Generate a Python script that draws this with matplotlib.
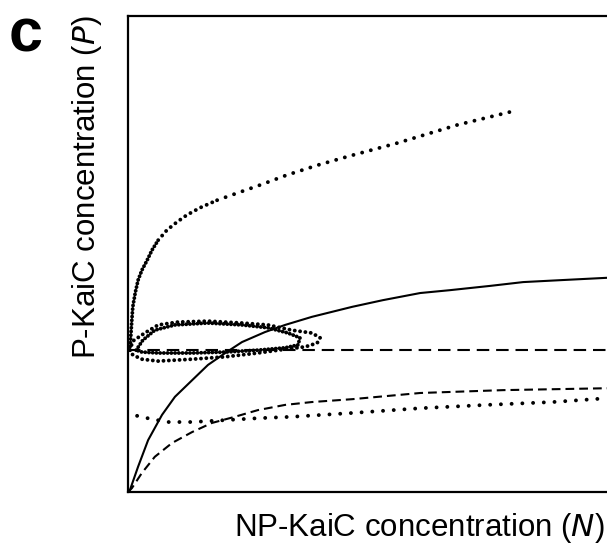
import numpy as np
import matplotlib
matplotlib.use("Agg")
import matplotlib.pyplot as plt

plt.rcParams["font.family"] = ["Liberation Sans", "DejaVu Sans"]

# trajectories in N (x) / P (y) units, axes run 0..100 on both
upper_n = [0.4, 0.6, 0.8, 1.0, 1.5, 2.1, 2.9, 4.0, 5.0, 6.3, 8.1, 10.2, 12.3, 15.0, 18.6, 22.8,
           27.6, 33.2, 39.7, 46.3, 56.2, 68.7, 80.4]
upper_p = [29.8, 33.0, 36.1, 38.9, 41.8, 44.5, 46.6, 48.7, 50.8, 52.9, 55.0, 56.7, 58.2, 59.7, 61.3, 62.8,
           64.5, 66.6, 68.7, 70.6, 73.3, 77.1, 80.0]

loop_out_n = [0.4, 1.0, 3.5, 6.3, 10.4, 16.7, 23.8, 29.2, 34.2, 38.4, 40.1, 39.5, 37.0, 32.8, 27.1,
              20.3, 13.4, 6.3, 2.9, 1.0, 0.4]
loop_out_p = [29.8, 31.7, 33.4, 35.1, 35.7, 35.9, 35.5, 35.1, 34.0, 33.4, 32.4, 31.3, 30.5, 30.0, 29.2,
              28.4, 27.9, 27.5, 27.9, 28.8, 29.8]
loop_in_n = [1.7, 3.1, 5.6, 9.8, 16.7, 23.8, 29.2, 33.4, 35.9, 35.5, 32.8, 27.1, 20.3, 13.4, 6.3, 2.9, 1.7]
loop_in_p = [29.8, 31.9, 34.0, 35.1, 35.5, 35.1, 34.5, 33.4, 32.4, 30.9, 30.3, 29.8, 29.4, 29.2, 29.2, 29.4, 29.8]

solid_n = [0.0, 0.4, 2.1, 4.2, 7.1, 9.8, 13.4, 16.7, 20.3, 23.8, 28.6, 32.8, 38.4, 46.8, 53.2, 61.0,
           67.2, 75.6, 82.5, 90.2, 100.0]
solid_p = [0.0, 0.4, 5.3, 10.9, 16.2, 20.0, 23.5, 26.7, 29.2, 31.5, 33.6, 35.1, 36.8, 38.9, 40.3, 41.8,
           42.4, 43.3, 44.1, 44.5, 45.0]

steady_p = 29.8

dashed_n = [0.0, 0.8, 2.9, 5.6, 9.2, 13.4, 17.5, 22.3, 27.1, 32.8, 38.4, 46.8, 61.0, 78.3, 100.0]
dashed_p = [0.0, 0.8, 4.0, 7.4, 10.3, 12.6, 14.5, 15.8, 17.2, 18.3, 18.9, 19.5, 20.8, 21.4, 21.8]

lower_n = [1.9, 5.0, 8.4, 13.4, 20.3, 27.1, 34.2, 46.8, 61.0, 74.9, 88.7, 100.0]
lower_p = [16.0, 15.3, 14.7, 14.7, 15.1, 15.5, 15.8, 16.6, 17.6, 18.3, 18.9, 19.7]

W, H = 607, 547
fig = plt.figure(figsize=(W / 100, H / 100), dpi=100)
ax = fig.add_axes([128 / W, 55 / H, 479 / W, 476 / H])

dot = dict(color="black", lw=2.8, dash_capstyle="round")
ax.plot(upper_n[:10], upper_p[:10], dashes=(0.01, 0.95), **dot)
ax.plot(upper_n[9:15], upper_p[9:15], dashes=(0.01, 1.55), **dot)
ax.plot(upper_n[14:], upper_p[14:], dashes=(0.01, 2.3), **dot)
ax.plot(loop_out_n, loop_out_p, dashes=(0.01, 1.37), **dot)
ax.plot(loop_in_n, loop_in_p, dashes=(0.01, 0.95), **dot)
ax.plot(lower_n, lower_p, dashes=(0.01, 2.75), **dot)

ax.plot(solid_n, solid_p, color="black", lw=1.5)
ax.axhline(steady_p, color="black", lw=1.5, dashes=(6, 3.3))
ax.plot(dashed_n, dashed_p, color="black", lw=1.5, dashes=(4.2, 2.4))

ax.set_xlim(0, 100)
ax.set_ylim(0, 100)
ax.set_xticks([])
ax.set_yticks([])
ax.spines["right"].set_visible(False)
for s in ["left", "top", "bottom"]:
    ax.spines[s].set_linewidth(1.6)

fig.text(605 / W, 1 - 536 / H, "NP-KaiC concentration ($\\mathit{N}$)", ha="right", va="baseline",
         fontsize=22.5)
fig.text(87 / W, 1 - 187 / H, "P-KaiC concentration ($\\mathit{P}$)", ha="center", va="center",
         rotation=90, fontsize=22.5)
fig.text(9 / W, 1 - 52 / H, "c", ha="left", va="baseline", fontsize=44, fontweight="bold")

fig.savefig("out.png", dpi=100)
